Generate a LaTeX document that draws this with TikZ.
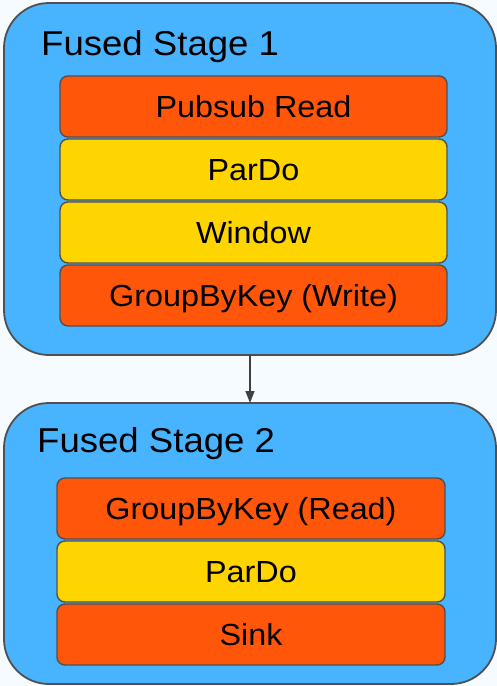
\documentclass[tikz,border=0pt]{standalone}
\usepackage{fontspec}
\setmainfont{Liberation Sans}[FakeStretch=1.06]
\usetikzlibrary{arrows.meta}

\definecolor{pagebg}{RGB}{246,251,255}
\definecolor{stageblue}{RGB}{72,180,255}
\definecolor{steporange}{RGB}{255,86,10}
\definecolor{stepyellow}{RGB}{255,213,0}
\definecolor{edgegray}{RGB}{80,80,80}
\definecolor{arrowgray}{RGB}{64,64,64}

\tikzset{
  stagebox/.style={draw=edgegray, line width=1.8pt, fill=stageblue,
    rounded corners=45pt, minimum width=492pt, inner sep=0pt, outer sep=0pt},
  stagetitle/.style={anchor=base west, inner sep=0pt,
    font=\fontsize{34.5}{40}\selectfont},
  opbox/.style={draw=edgegray, line width=1.4pt, rounded corners=8pt,
    minimum height=61pt, inner sep=0pt, outer sep=0pt,
    text height=22pt, text depth=0pt,
    font=\fontsize{30.5}{36}\selectfont},
  readwrite/.style={opbox, fill=steporange},
  transform/.style={opbox, fill=stepyellow},
  flow/.style={draw=arrowgray, line width=1.5pt,
    -{Triangle[length=12pt,width=9pt]}},
}

\begin{document}
\begin{tikzpicture}[x=1pt,y=-1pt]
  \fill[pagebg] (0,0) rectangle (497,686);
  \useasboundingbox (0,0) rectangle (497,686);

  % Stage 1
  \node[stagebox, minimum height=352pt] (s1) at (250,179) {};
  \node[stagetitle] (t1) at (41,55) {Fused Stage 1};
  \node[readwrite, minimum width=387pt] (a1) at (253.5,106.5) {Pubsub Read};
  \node[transform, minimum width=387pt] (a2) at (253.5,169.5) {ParDo};
  \node[transform, minimum width=387pt] (a3) at (253.5,232.5) {Window};
  \node[readwrite, minimum width=387pt] (a4) at (253.5,295.5) {GroupByKey (Write)};

  % Stage 2
  \node[stagebox, minimum height=281pt] (s2) at (250,543.5) {};
  \node[stagetitle] (t2) at (37,452) {Fused Stage 2};
  \node[readwrite, minimum width=388pt] (b1) at (251,508.5) {GroupByKey (Read)};
  \node[transform, minimum width=388pt] (b2) at (251,571.5) {ParDo};
  \node[readwrite, minimum width=388pt] (b3) at (251,634.5) {Sink};

  % Hand-off between the stages
  \draw[flow] (s1.south) -- (s2.north);
\end{tikzpicture}
\end{document}
